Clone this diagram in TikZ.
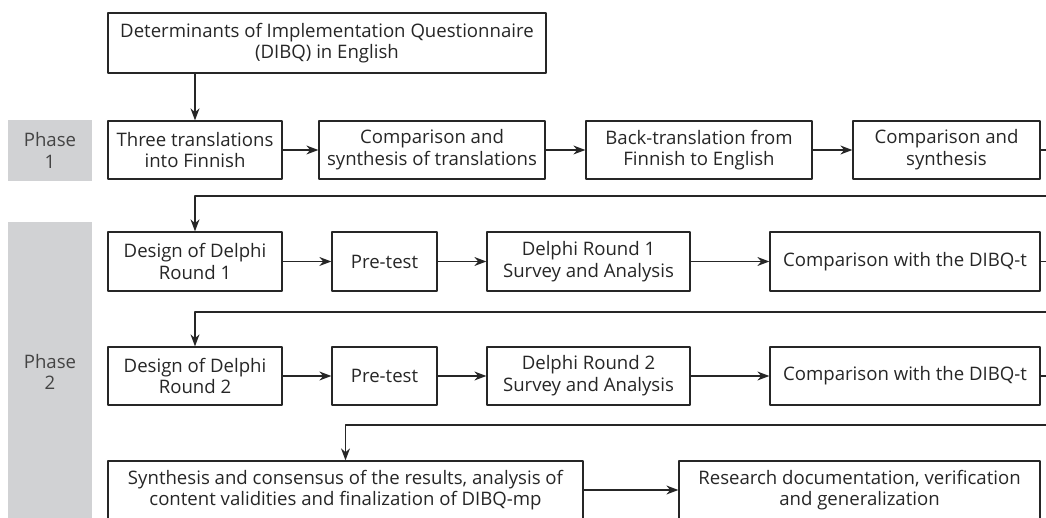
\documentclass[tikz,border=0pt]{standalone}
\usepackage{fontspec}
\setmainfont{Open Sans}
\usetikzlibrary{arrows.meta}
\definecolor{linegray}{HTML}{262626}
\definecolor{phasefill}{HTML}{D1D2D4}
\definecolor{phasetext}{HTML}{444444}
\tikzset{
  box/.style={draw=linegray, line width=1.3pt, align=center, inner sep=0pt,
    minimum height=58pt, text=linegray},
  phase/.style={fill=phasefill, align=center, inner sep=0pt, text=phasetext,
    minimum width=84pt},
  flow/.style={->, draw=linegray, line width=1.3pt}
}
\begin{document}
\begin{tikzpicture}[x=1pt,y=-1pt,>={Stealth[length=12pt,width=9pt]}, line join=round,
    font=\fontsize{18.6}{21.7}\selectfont]
    \useasboundingbox (0,0) rectangle (1046,518);
    \clip (0,0) rectangle (1046,518);
    % phases
    \node[phase, minimum height=61pt] (ph1) at (50,150.5) {Phase\\1};
    \node[phase, minimum height=300pt] (ph2) at (50,372) {Phase\\2};
    % boxes
    \node[box, minimum width=438pt, minimum height=60pt] (dibq) at (327,43)
        {Determinants of Implementation Questionnaire\\(DIBQ) in English};
    \node[box, minimum width=174pt] (three) at (195,150) {Three translations\\into Finnish};
    \node[box, minimum width=226pt] (synth) at (432,150) {Comparison and\\synthesis of translations};
    \node[box, minimum width=226pt] (back) at (699,150) {Back-translation from\\Finnish to English};
    \node[box, minimum width=187pt] (comp) at (946.5,150) {Comparison and\\synthesis};
    \node[box, minimum width=174pt, minimum height=59pt] (designA) at (195,261.5) {Design of Delphi\\Round 1};
    \node[box, minimum width=105pt, minimum height=59pt] (pretestA) at (384.5,261.5) {Pre-test};
    \node[box, minimum width=203pt, minimum height=59pt] (surveyA) at (588.5,261.5) {Delphi Round 1\\Survey and Analysis};
    \node[box, minimum width=270pt, minimum height=59pt] (dibqtA) at (905,261.5) {Comparison with the DIBQ-t};
    \node[box, minimum width=174pt] (designB) at (195,376) {Design of Delphi\\Round 2};
    \node[box, minimum width=105pt] (pretestB) at (384.5,376) {Pre-test};
    \node[box, minimum width=203pt] (surveyB) at (588.5,376) {Delphi Round 2\\Survey and Analysis};
    \node[box, minimum width=270pt] (dibqtB) at (905,376) {Comparison with the DIBQ-t};
    \node[box, minimum width=475pt] (final) at (345.5,490)
        {Synthesis and consensus of the results, analysis of\\content validities and finalization of DIBQ-mp};
    \node[box, minimum width=361pt] (report) at (859.5,490)
        {Research documentation, verification\\and generalization};
    % return points beyond the right edge
    \coordinate (retA) at (1060,196);
    \coordinate (retB) at (1060,312);
    \coordinate (retC) at (1060,425);
    % connectors
    \draw[flow] (three.north |- dibq.south) -- (three.north);
    \draw[flow] (three) -- (synth);
    \draw[flow] (synth) -- (back);
    \draw[flow] (back) -- (comp);
    \draw[flow] (comp.east) -| (retA) -| (designA.north);
    \draw[flow] (designA) -- (pretestA);
    \draw[flow] (pretestA) -- (surveyA);
    \draw[flow] (surveyA) -- (dibqtA);
    \draw[flow] (dibqtA.east) -| (retB) -| (designB.north);
    \draw[flow] (designB) -- (pretestB);
    \draw[flow] (pretestB) -- (surveyB);
    \draw[flow] (surveyB) -- (dibqtB);
    \draw[flow] (dibqtB.east) -| (retC) -| (final.north);
    \draw[flow] (final) -- (report);
\end{tikzpicture}
\end{document}
